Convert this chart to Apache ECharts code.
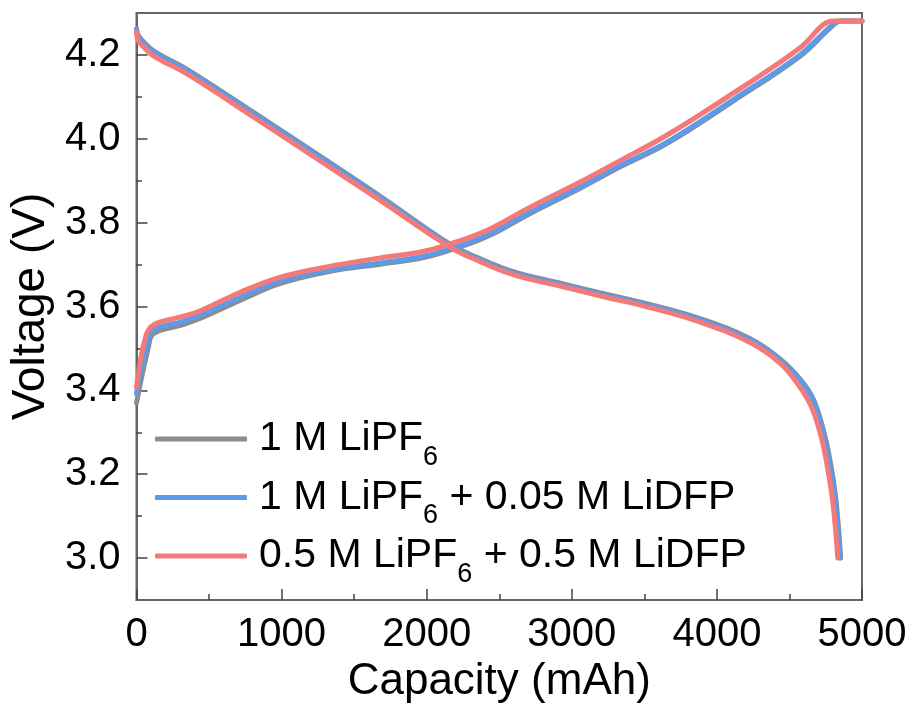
<!DOCTYPE html>
<html><head><meta charset="utf-8">
<script src="https://cdn.jsdelivr.net/npm/echarts@6/dist/echarts.min.js"></script>
<style>html,body{margin:0;padding:0;background:#fff}#c{width:915px;height:726px}</style>
</head><body><div id="c"></div>
<script>
// ---- data ----
const seriesNames = ['1 M LiPF6', '1 M LiPF6 + 0.05 M LiDFP', '0.5 M LiPF6 + 0.5 M LiDFP'];
const seriesColors = ['#8c8c8c', '#5b9bea', '#f47a7a'];
const xTickLabels = [0, 1000, 2000, 3000, 4000, 5000];
const yTickLabels = [3.0, 3.2, 3.4, 3.6, 3.8, 4.0, 4.2];
const yMinorTicks = [3.1, 3.3, 3.5, 3.7, 3.9, 4.1];

// charge curves (capacity mAh, voltage V)
const chargeCapGray  = [0, 80, 117, 303, 441, 716, 992, 1336, 1680, 1956, 2142, 2417, 2713, 3058, 3333, 3657, 4112, 4573, 4780, 4855, 5000];
const chargeVGray    = [3.37, 3.50, 3.535, 3.555, 3.572, 3.615, 3.655, 3.684, 3.701, 3.715, 3.732, 3.767, 3.822, 3.882, 3.933, 3.989, 4.090, 4.197, 4.264, 4.281, 4.281];
const chargeCapBlue  = [0, 76, 117, 303, 441, 716, 992, 1336, 1680, 1956, 2142, 2417, 2713, 3058, 3333, 3657, 4112, 4573, 4780, 4848, 5000];
const chargeVBlue    = [3.393, 3.513, 3.544, 3.563, 3.58, 3.622, 3.661, 3.687, 3.704, 3.718, 3.735, 3.770, 3.825, 3.885, 3.936, 3.992, 4.093, 4.200, 4.267, 4.281, 4.281];
const chargeCapRed   = [0, 62, 117, 303, 441, 716, 992, 1336, 1680, 1956, 2142, 2417, 2713, 3058, 3333, 3657, 4112, 4573, 4732, 4800, 5000];
const chargeVRed     = [3.408, 3.527, 3.556, 3.575, 3.59, 3.634, 3.670, 3.696, 3.716, 3.730, 3.747, 3.782, 3.837, 3.897, 3.948, 4.009, 4.109, 4.217, 4.272, 4.281, 4.281];

// discharge curves
const dischCapGray = [0, 10, 41, 117, 351, 806, 1267, 1680, 2163, 2369, 2597, 2941, 3250, 3500, 3884, 4229, 4435, 4573, 4663, 4738, 4786, 4820, 4853];
const dischVGray   = [4.262, 4.248, 4.234, 4.210, 4.165, 4.063, 3.958, 3.863, 3.748, 3.714, 3.683, 3.654, 3.628, 3.608, 3.571, 3.523, 3.475, 3.427, 3.380, 3.300, 3.220, 3.140, 3.0];
const dischCapBlue = [0, 10, 41, 117, 351, 806, 1267, 1680, 2163, 2369, 2597, 2941, 3250, 3500, 3884, 4229, 4435, 4573, 4663, 4732, 4780, 4814, 4848];
const dischVBlue   = [4.262, 4.245, 4.231, 4.207, 4.162, 4.060, 3.955, 3.860, 3.745, 3.711, 3.680, 3.651, 3.625, 3.605, 3.568, 3.520, 3.472, 3.424, 3.377, 3.298, 3.217, 3.138, 3.0];
const dischCapRed  = [0, 10, 41, 117, 351, 806, 1267, 1680, 2163, 2369, 2597, 2941, 3250, 3500, 3884, 4229, 4435, 4560, 4650, 4718, 4765, 4800, 4833];
const dischVRed    = [4.255, 4.235, 4.222, 4.198, 4.154, 4.052, 3.947, 3.853, 3.741, 3.707, 3.676, 3.647, 3.621, 3.601, 3.563, 3.514, 3.465, 3.414, 3.362, 3.290, 3.210, 3.130, 3.0];

// ---- chart ----
const FONT = 'Liberation Sans, Arial, sans-serif';
function pairs(xs, ys) { return xs.map((x, i) => [x, ys[i]]); }
const curves = [
  [chargeCapGray, chargeVGray, dischCapGray, dischVGray],
  [chargeCapBlue, chargeVBlue, dischCapBlue, dischVBlue],
  [chargeCapRed, chargeVRed, dischCapRed, dischVRed]
];
const series = [];
curves.forEach((c, i) => {
  [[c[0], c[1]], [c[2], c[3]]].forEach(([xs, ys]) => {
    series.push({
      name: seriesNames[i], type: 'line', data: pairs(xs, ys),
      showSymbol: false, smooth: 0.4,
      lineStyle: { color: seriesColors[i], width: 5, cap: 'round', join: 'round' },
      itemStyle: { color: seriesColors[i] },
      z: 2 + i
    });
  });
});

const chart = echarts.init(document.getElementById('c'), null, { renderer: 'canvas' });
chart.setOption({
  animation: false,
  backgroundColor: '#fff',
  grid: { left: 136, right: 53, top: 13, bottom: 126, show: true, borderColor: '#666', borderWidth: 2, containLabel: false },
  legend: {
    orient: 'vertical', left: 150, top: 402, itemGap: -5.5, itemWidth: 92, itemHeight: 5,
    icon: 'roundRect', selectedMode: false,
    data: seriesNames,
    formatter: n => n.replace('LiPF6', 'LiPF{s|6}'),
    textStyle: {
      fontFamily: FONT, fontSize: 41, color: '#000', lineHeight: 64, padding: [0, 0, 0, 7],
      rich: { s: { fontFamily: FONT, fontSize: 27, verticalAlign: 'bottom', color: '#000' } }
    }
  },
  xAxis: {
    type: 'value', min: 0, max: 5000, interval: 1000,
    name: 'Capacity (mAh)', nameLocation: 'middle', nameGap: 59,
    nameTextStyle: { fontFamily: FONT, fontSize: 44, color: '#000' },
    axisLine: { lineStyle: { color: '#666', width: 2 } },
    axisTick: { inside: true, length: 11, lineStyle: { color: '#444', width: 1.5 } },
    minorTick: { show: true, splitNumber: 2, length: 6, lineStyle: { color: '#444', width: 1.5 } },
    axisLabel: { fontFamily: FONT, fontSize: 40, color: '#000', margin: 15, customValues: xTickLabels, formatter: v => String(v) },
    splitLine: { show: false }, minorSplitLine: { show: false }
  },
  yAxis: [{
    type: 'value', min: 2.9, max: 4.3,
    name: 'Voltage (V)', nameLocation: 'middle', nameGap: 80,
    nameTextStyle: { fontFamily: FONT, fontSize: 46, color: '#000' },
    axisLine: { lineStyle: { color: '#666', width: 2 } },
    axisTick: { inside: true, length: 11, customValues: yTickLabels, lineStyle: { color: '#444', width: 1.5 } },
    axisLabel: { fontFamily: FONT, fontSize: 40, color: '#000', margin: 16, customValues: yTickLabels, formatter: v => v.toFixed(1) },
    splitLine: { show: false }
  }, {
    type: 'value', min: 2.9, max: 4.3, position: 'right', offset: -726,
    axisLine: { show: false },
    axisTick: { show: true, inside: false, length: 6, customValues: yMinorTicks, lineStyle: { color: '#444', width: 1.5 } },
    axisLabel: { show: false },
    splitLine: { show: false }
  }],
  series: series
});
</script></body></html>
